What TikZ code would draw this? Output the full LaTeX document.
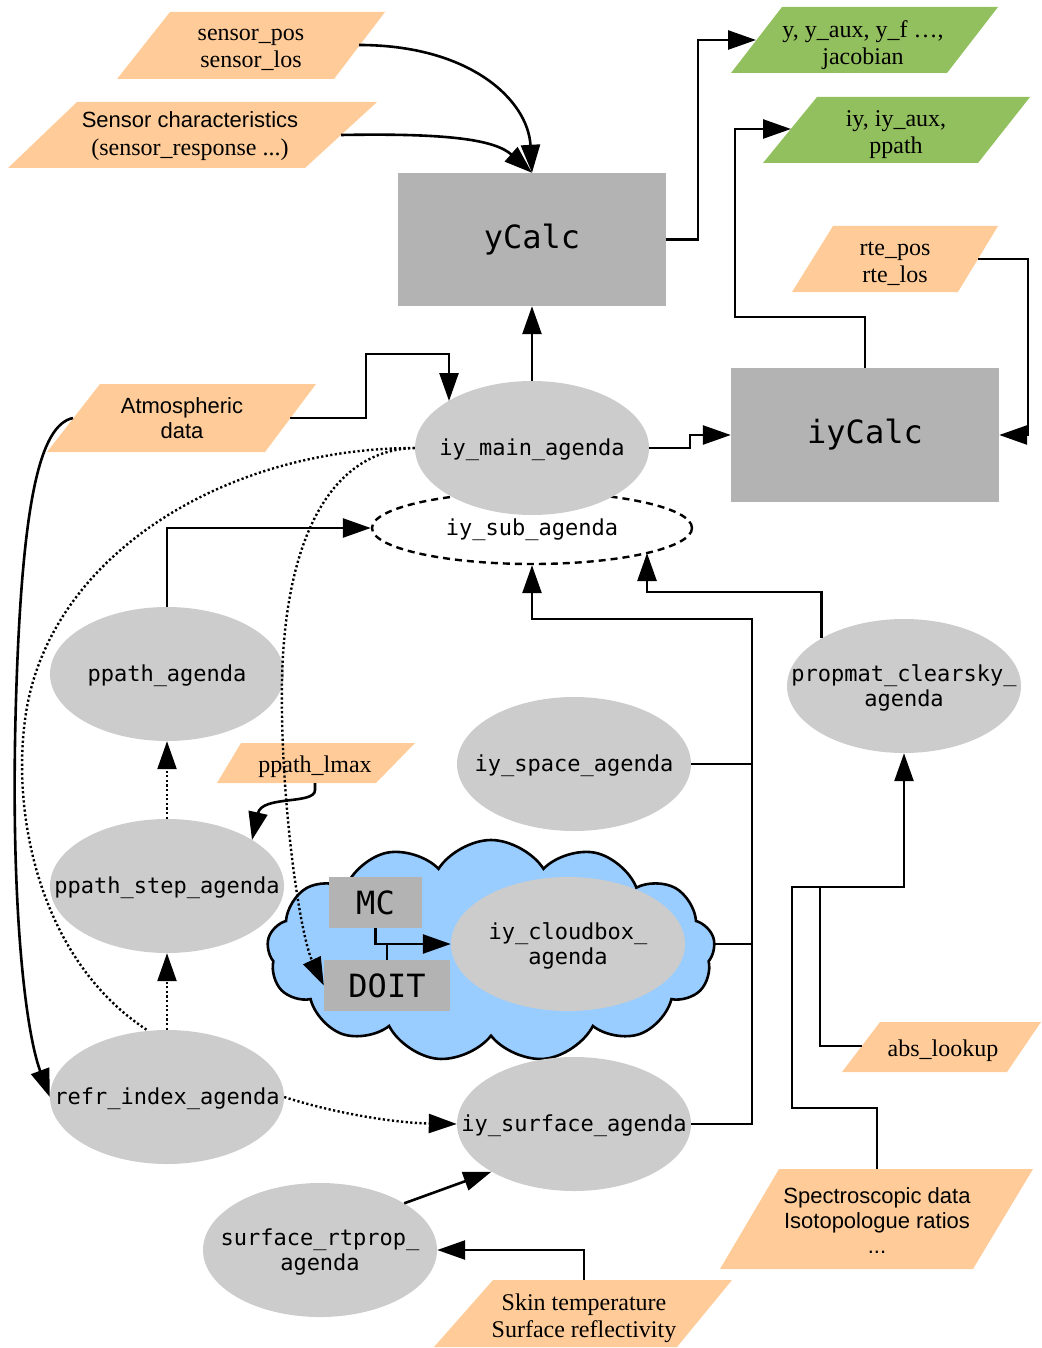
\documentclass[tikz,border=0pt]{standalone}
\usepackage{fontspec}
\setmainfont{Liberation Serif}
\newfontfamily\sansf{Liberation Sans}
\newfontfamily\monof{DejaVu Sans Mono}
\usetikzlibrary{arrows.meta,shapes.geometric,shapes.symbols}
\definecolor{orng}{RGB}{255,204,153}
\definecolor{grn}{RGB}{147,192,94}
\definecolor{agray}{RGB}{204,204,204}
\definecolor{rgray}{RGB}{179,179,179}
\definecolor{cloudb}{RGB}{153,204,255}
\newcommand\agnode[3]{\node[agshape] (#1) at (#2) {};\node[agtext, yshift=-2pt] (#1-t) at (#2) {#3};}
\begin{document}
\begin{tikzpicture}[x=1pt,y=-1pt,
  agshape/.style={ellipse, fill=agray, minimum width=234pt, minimum height=134pt, inner sep=0pt},
  agtext/.style={align=center, inner sep=0pt, font=\monof\fontsize{22}{25}\selectfont},
  bigbox/.style={rectangle, fill=rgray, inner sep=0pt, font=\monof\fontsize{32}{38}\selectfont},
  ser/.style={align=center, inner sep=0pt, yshift=-3.5pt, font=\fontsize{24}{27}\selectfont},
  sns/.style={align=center, inner sep=0pt, font=\sansf\fontsize{22}{25}\selectfont},
  ln/.style={line width=2.6pt},
  arr/.style={ln, -{Triangle[length=28pt,width=19pt]}},
  dotl/.style={line width=2.4pt, dash pattern=on 2.2pt off 2.4pt},
  dotarr/.style={dotl, -{Triangle[length=28pt,width=19pt]}}]
\useasboundingbox (0,0) rectangle (1041,1348);

% parallelograms
\fill[orng] (170,12) -- (385,12) -- (334,79) -- (117,79) -- cycle;
\node[ser] (spos) at (251,46) {sensor\_pos\\sensor\_los};
\coordinate (spos-r) at (359,45);
\fill[orng] (77,102) -- (377,102) -- (305,168) -- (8,168) -- cycle;
\node[align=center, inner sep=0pt, font=\fontsize{24}{28}\selectfont] (schar) at (190,136) {{\sansf\fontsize{22}{25}\selectfont Sensor characteristics}\\(sensor\_response ...)};
\coordinate (schar-r) at (341,135);
\fill[grn] (782,7) -- (998,7) -- (947,73) -- (731,73) -- cycle;
\node[ser] (yout) at (863,42) {y, y\_aux, y\_f …,\\jacobian};
\coordinate (yout-l) at (756,40);
\fill[grn] (817,97) -- (1030,97) -- (978,163) -- (763,163) -- cycle;
\node[ser] (iyout) at (896,131) {iy, iy\_aux,\\ppath};
\coordinate (iyout-l) at (791,129);
\fill[orng] (833,226) -- (998,226) -- (958,292) -- (792,292) -- cycle;
\node[ser] (rte) at (895,260) {rte\_pos\\rte\_los};
\coordinate (rte-r) at (978,259);
\fill[orng] (100,384) -- (316,384) -- (265,452) -- (47,452) -- cycle;
\node[sns] (atm) at (182,418) {Atmospheric\\data};
\coordinate (atm-r) at (290,418);
\coordinate (atm-l) at (73,418);
\fill[orng] (241,743) -- (415,743) -- (376,783) -- (217,783) -- cycle;
\node[ser] (lmax) at (315,763) {ppath\_lmax};
\coordinate (lmax-b) at (315,783);
\fill[orng] (880,1022) -- (1041,1022) -- (1007,1072) -- (842,1072) -- cycle;
\node[ser] (abs) at (943,1047) {abs\_lookup};
\coordinate (abs-l) at (862,1046);
\fill[orng] (779,1169) -- (1033,1169) -- (973,1269) -- (720,1269) -- cycle;
\node[sns] (spec) at (877,1221) {Spectroscopic data\\Isotopologue ratios\\...};
\coordinate (spec-t) at (877,1169);
\fill[orng] (493,1280) -- (732,1280) -- (677,1347) -- (434,1347) -- cycle;
\node[ser] (skin) at (584,1315) {Skin temperature\\Surface reflectivity};
\coordinate (skin-t) at (584,1280);

% boxes
\node[bigbox, minimum width=268pt, minimum height=133pt] (ycalc) at (532,239.5) {yCalc};
\node[bigbox, minimum width=268pt, minimum height=134pt] (iycalc) at (865,435) {iyCalc};

% agendas
\node[ellipse, draw, line width=2.4pt, dash pattern=on 7pt off 5pt, minimum width=320pt, minimum height=72pt, inner sep=0pt] (iysub) at (532,528) {};
\node[agtext, yshift=-2pt] (iysub-t) at (532,528) {iy\_sub\_agenda};
\agnode{iymain}{532,448}{iy\_main\_agenda}
\agnode{ppath}{167,674}{ppath\_agenda}
\agnode{iyspace}{574,764}{iy\_space\_agenda}
\agnode{propmat}{904,686}{propmat\_clearsky\_\\agenda}
\agnode{pstep}{167,886}{ppath\_step\_agenda}
\agnode{refr}{167,1097}{refr\_index\_agenda}
\node[cloud, cloud puffs=13, cloud puff arc=115, aspect=2, draw, fill=cloudb, line width=2.6pt, minimum width=448pt, minimum height=222pt, inner sep=0pt] (cloud) at (491,951) {};
\node[bigbox, minimum width=93pt, minimum height=51pt] (mc) at (375.5,902.5) {MC};
\node[bigbox, minimum width=126pt, minimum height=51pt] (doit) at (387,985.5) {DOIT};
\agnode{iycb}{568,944}{iy\_cloudbox\_\\agenda}
\agnode{iysurf}{574,1124}{iy\_surface\_agenda}
\agnode{srt}{320,1250}{surface\_rtprop\_\\agenda}

% connectors
\draw[arr] (spos-r) .. controls (470,45) and (528,100) .. (ycalc.north);
\draw[arr] (schar-r) .. controls (450,133) and (495,140) .. (ycalc.north);
\draw[arr] (ycalc.east) -- (698,239.5) |- (yout-l);
\draw[arr] (iycalc.north) |- (735,317) |- (iyout-l);
\draw[arr] (rte-r) -| (1028,435) -- (iycalc.east);
\draw[arr] (atm-r) -| (366,354) -| (449,401);
\draw[arr] (iymain.north) -- (ycalc.south);
\draw[arr] (iymain.east) -- (690,448) |- (iycalc.west);
\draw[arr] (ppath.north) |- (iysub.west);
\draw[arr] (iysurf.east) -| (752,619) -| (iysub.south);
\draw[ln] (iyspace.east) -- (752,764);
\draw[ln] (714,944) -- (752,944);
\draw[arr] (propmat.150) |- (647,592) -- (647,553);
\draw[arr] (mc.south) |- (iycb.west);
\draw[ln] (doit.north) -- (387,944);
\draw[arr] (spec-t) |- (792,1108) |- (904,887) -- (propmat.south);
\draw[ln] (abs-l) -| (820,887);
\draw[dotarr] (pstep.north) -- (ppath.south);
\draw[dotarr] (refr.north) -- (pstep.south);
\draw[arr] (lmax-b) -- (315,790) .. controls (315,805) and (262,795) .. (252,840);
\draw[dotl] (iymain.west) .. controls (220,448) and (45,560) .. (25,720) .. controls (12,816) and (40,960) .. (147,1030);
\draw[dotarr] (iymain.west) .. controls (330,450) and (285,540) .. (282,680) .. controls (280,800) and (300,935) .. (doit.west);
\draw[arr] (atm-l) .. controls (40,425) and (22,500) .. (16,700) .. controls (10,900) and (25,1030) .. (refr.west);
\draw[dotarr] (refr.east) .. controls (340,1115) and (400,1123) .. (iysurf.west);
\draw[arr] (srt.29) -- (iysurf.210);
\draw[arr] (skin-t) |- (srt.east);
\end{tikzpicture}
\end{document}
